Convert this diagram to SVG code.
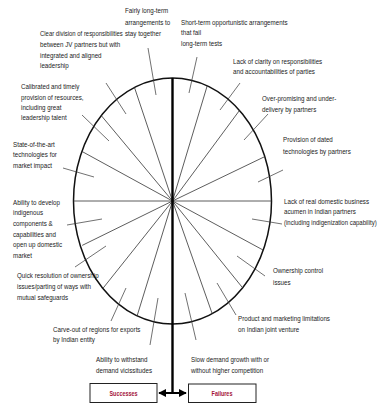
<svg xmlns="http://www.w3.org/2000/svg" width="379" height="405" viewBox="0 0 379 405">
<defs>
<style>
.t{font-family:"Liberation Sans",Arial,sans-serif;font-size:7.6px;fill:#1a1a1a}
.sp{stroke:#333;stroke-width:0.8;fill:none}
.ld{stroke:#333;stroke-width:0.7;fill:none}
.box{fill:#fff;stroke:#222;stroke-width:1}
.bt{font-family:"Liberation Sans",Arial,sans-serif;font-size:6.8px;font-weight:bold;fill:#a3123a;text-anchor:middle}
</style>
<marker id="ah" viewBox="0 0 10 10" refX="9" refY="5" markerWidth="4" markerHeight="4" orient="auto-start-reverse" markerUnits="strokeWidth">
<path d="M0,0 L10,5 L0,10 z" fill="#000"/>
</marker>
</defs>
<rect width="379" height="405" fill="#fff"/>
<g id="wheel">
<ellipse cx="172.5" cy="201" rx="99" ry="123" fill="none" stroke="#111" stroke-width="1.5"/>
</g>
<g id="connectors">
<line class="sp" x1="172.5" y1="201" x2="134.5" y2="87.5"/>
<line class="sp" x1="172.5" y1="201" x2="101.3" y2="115.6"/>
<line class="sp" x1="172.5" y1="201" x2="81.9" y2="151.4"/>
<line class="sp" x1="172.5" y1="201" x2="73.5" y2="201"/>
<line class="sp" x1="172.5" y1="201" x2="207.2" y2="85.8"/>
<line class="sp" x1="172.5" y1="201" x2="239.5" y2="110.4"/>
<line class="sp" x1="172.5" y1="201" x2="264.8" y2="156.6"/>
<line class="sp" x1="172.5" y1="201" x2="271.5" y2="201"/>
<line class="sp" x1="172.5" y1="201" x2="82.2" y2="245.4"/>
<line class="sp" x1="172.5" y1="201" x2="102.9" y2="288.4"/>
<line class="sp" x1="172.5" y1="201" x2="137.1" y2="315.9"/>
<line class="sp" x1="172.5" y1="201" x2="263.2" y2="250.1"/>
<line class="sp" x1="172.5" y1="201" x2="242.6" y2="287.8"/>
<line class="sp" x1="172.5" y1="201" x2="212.2" y2="313.7"/>
<line x1="172.5" y1="78" x2="172.5" y2="393" stroke="#000" stroke-width="2.4"/>
<line x1="159" y1="393" x2="186" y2="393" stroke="#000" stroke-width="2" marker-start="url(#ah)" marker-end="url(#ah)"/>
<line class="ld" x1="148" y1="48" x2="156" y2="95"/>
<line class="ld" x1="197" y1="57" x2="189" y2="93"/>
<line class="ld" x1="106" y1="83" x2="126" y2="114"/>
<line class="ld" x1="82" y1="115" x2="109" y2="141"/>
<line class="ld" x1="240" y1="83" x2="220" y2="110"/>
<line class="ld" x1="268" y1="114" x2="244" y2="140"/>
<line class="ld" x1="283" y1="170" x2="258" y2="182"/>
<line class="ld" x1="63" y1="168" x2="94" y2="177"/>
<line class="ld" x1="67" y1="225" x2="102" y2="219"/>
<line class="ld" x1="252" y1="219" x2="282" y2="224"/>
<line class="ld" x1="75" y1="267" x2="106" y2="246"/>
<line class="ld" x1="237" y1="256" x2="265" y2="276"/>
<line class="ld" x1="217" y1="283" x2="236" y2="315"/>
<line class="ld" x1="111" y1="321" x2="126" y2="288"/>
<line class="ld" x1="158" y1="298" x2="150" y2="345"/>
<line class="ld" x1="185" y1="293" x2="196" y2="340"/>
</g>
<g id="n-fairly" transform="matrix(0.82 0 0 1 125 0)"><text class="t" x="0" y="13.5">Fairly long-term</text><text class="t" x="0" y="25">arrangements to</text><text class="t" x="0" y="36">stay together</text></g>
<g id="n-shortterm" transform="matrix(0.82 0 0 1 181 0)"><text class="t" x="0" y="25">Short-term opportunistic arrangements</text><text class="t" x="0" y="35.5">that fail</text><text class="t" x="0" y="46">long-term tests</text></g>
<g id="n-clear" transform="matrix(0.82 0 0 1 40 0)"><text class="t" x="0" y="36" textLength="101" lengthAdjust="spacingAndGlyphs">Clear division of responsibilities</text><text class="t" x="0" y="47">between JV partners but with</text><text class="t" x="0" y="58">integrated and aligned</text><text class="t" x="0" y="68.5">leadership</text></g>
<g id="n-calibrated" transform="matrix(0.82 0 0 1 21 0)"><text class="t" x="0" y="89">Calibrated and timely</text><text class="t" x="0" y="100">provision of resources,</text><text class="t" x="0" y="110">including great</text><text class="t" x="0" y="120.5">leadership talent</text></g>
<g id="n-lackclarity" transform="matrix(0.82 0 0 1 233 0)"><text class="t" x="0" y="64">Lack of clarity on responsibilities</text><text class="t" x="0" y="74">and accountabilities of parties</text></g>
<g id="n-overpromising" transform="matrix(0.82 0 0 1 262 0)"><text class="t" x="0" y="101.5">Over-promising and under-</text><text class="t" x="0" y="112">delivery by partners</text></g>
<g id="n-dated" transform="matrix(0.82 0 0 1 283 0)"><text class="t" x="0" y="142.5">Provision of dated</text><text class="t" x="0" y="154">technologies by partners</text></g>
<g id="n-stateart" transform="matrix(0.82 0 0 1 13 0)"><text class="t" x="0" y="147.5">State-of-the-art</text><text class="t" x="0" y="157.5">technologies for</text><text class="t" x="0" y="168.5">market impact</text></g>
<g id="n-develop" transform="matrix(0.82 0 0 1 13 0)"><text class="t" x="0" y="205">Ability to develop</text><text class="t" x="0" y="215.5">indigenous</text><text class="t" x="0" y="226">components &amp;</text><text class="t" x="0" y="237">capabilities and</text><text class="t" x="0" y="247.5">open up domestic</text><text class="t" x="0" y="258">market</text></g>
<g id="n-acumen" transform="matrix(0.82 0 0 1 284 0)"><text class="t" x="0" y="204">Lack of real domestic business</text><text class="t" x="0" y="214.5">acumen in Indian partners</text><text class="t" x="0" y="225.5" textLength="113" lengthAdjust="spacingAndGlyphs">(including indigenization capability)</text></g>
<g id="n-ownership" transform="matrix(0.82 0 0 1 273 0)"><text class="t" x="0" y="273.5">Ownership control</text><text class="t" x="0" y="285">issues</text></g>
<g id="n-quick" transform="matrix(0.82 0 0 1 17 0)"><text class="t" x="0" y="278">Quick resolution of ownership</text><text class="t" x="0" y="289">issues/parting of ways with</text><text class="t" x="0" y="300">mutual safeguards</text></g>
<g id="n-product" transform="matrix(0.82 0 0 1 238 0)"><text class="t" x="0" y="321">Product and marketing limitations</text><text class="t" x="0" y="332">on Indian joint venture</text></g>
<g id="n-carveout" transform="matrix(0.82 0 0 1 53 0)"><text class="t" x="0" y="332">Carve-out of regions for exports</text><text class="t" x="0" y="342.5">by Indian entity</text></g>
<g id="n-withstand" transform="matrix(0.82 0 0 1 96 0)"><text class="t" x="0" y="362.5">Ability to withstand</text><text class="t" x="0" y="373.5">demand vicissitudes</text></g>
<g id="n-slow" transform="matrix(0.82 0 0 1 191 0)"><text class="t" x="0" y="362.5">Slow demand growth with or</text><text class="t" x="0" y="373">without higher competition</text></g>
<g id="n-successes"><rect class="box" x="90" y="383.5" width="67" height="19"/><text class="bt" x="0" y="395.8" transform="matrix(0.8 0 0 1 123.5 0)">Successes</text></g>
<g id="n-failures"><rect class="box" x="188.5" y="384" width="67.5" height="18.5"/><text class="bt" x="0" y="395.8" transform="matrix(0.8 0 0 1 222 0)">Failures</text></g>
</svg>
